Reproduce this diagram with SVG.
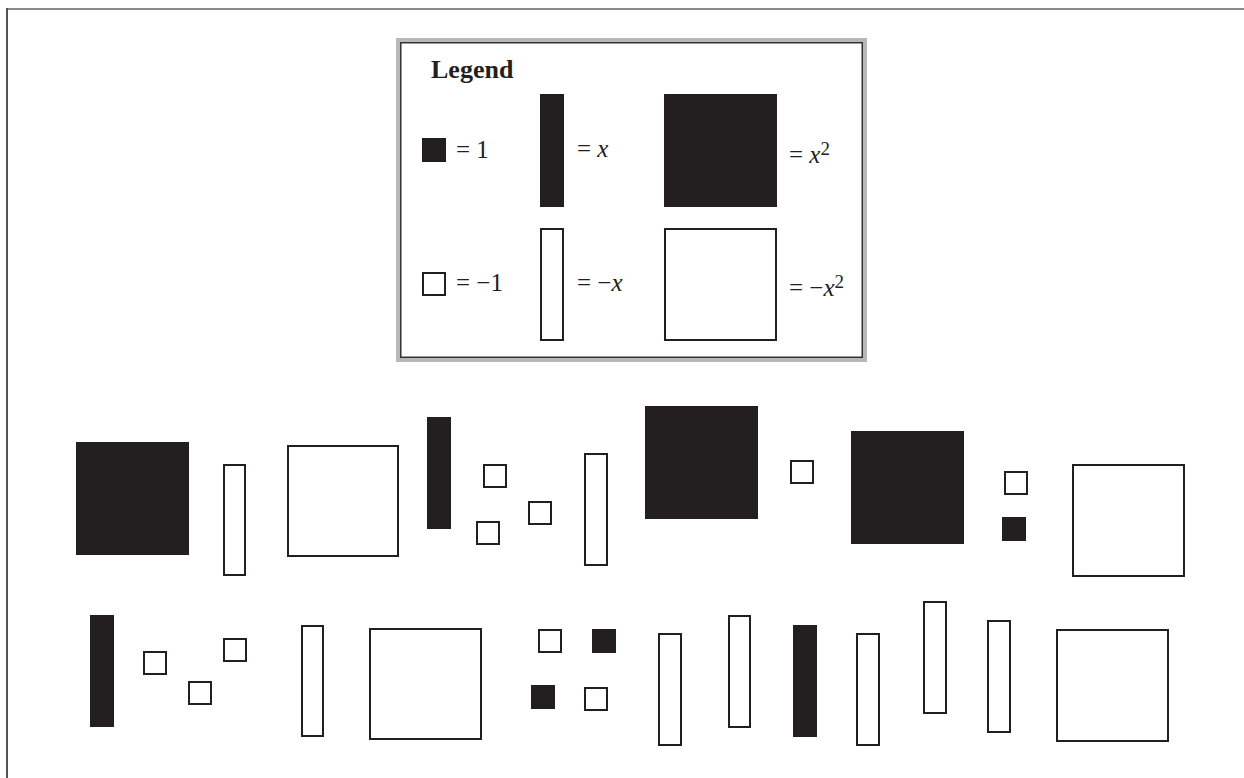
<svg xmlns="http://www.w3.org/2000/svg" width="1244" height="778" viewBox="0 0 1244 778">
<style>
.pos{fill:#231f20}
.neg{fill:#fff;stroke:#231f20;stroke-width:2}
.t{font-family:"Liberation Serif","Times New Roman",serif;font-size:25px;fill:#231f20}
.i{font-style:italic}
.sup{font-size:19px}
.h{font-family:"Liberation Serif","Times New Roman",serif;font-size:26px;font-weight:bold;fill:#231f20}
</style>
<rect width="1244" height="778" fill="#fff"/>
<g id="frame">
<line x1="6" y1="9" x2="1244" y2="9" stroke="#8a8a8a" stroke-width="2"/>
<line x1="7" y1="8" x2="7" y2="778" stroke="#555" stroke-width="2"/>
</g>
<g id="legend">
<rect x="398" y="40" width="467" height="320" fill="#fff" stroke="#b8b8b8" stroke-width="4"/>
<rect x="400.75" y="42.75" width="461.5" height="314.5" fill="none" stroke="#333" stroke-width="1.5"/>
<text class="h" x="431" y="78">Legend</text>
<rect class="pos" x="422" y="138" width="24" height="24"/>
<text class="t" x="456" y="158">= 1</text>
<rect class="pos" x="540" y="94" width="24" height="113"/>
<text class="t" x="577" y="157">= <tspan class="i">x</tspan></text>
<rect class="pos" x="664" y="94" width="113" height="113"/>
<text class="t" x="789" y="163">= <tspan class="i">x</tspan><tspan class="sup" dy="-8">2</tspan></text>
<rect class="neg" x="423" y="273" width="22" height="22"/>
<text class="t" x="456" y="291">= −1</text>
<rect class="neg" x="541" y="229" width="22" height="111"/>
<text class="t" x="577" y="291">= −<tspan class="i">x</tspan></text>
<rect class="neg" x="665" y="229" width="111" height="111"/>
<text class="t" x="789" y="296">= −<tspan class="i">x</tspan><tspan class="sup" dy="-8">2</tspan></text>
</g>
<g id="row1">
<g id="r1t1"><rect class="pos" x="76" y="442" width="113" height="113"/></g>
<g id="r1t2"><rect class="neg" x="224" y="465" width="21" height="110"/></g>
<g id="r1t3"><rect class="neg" x="288" y="446" width="110" height="110"/></g>
<g id="r1t4"><rect class="pos" x="427" y="417" width="24" height="112"/></g>
<g id="r1t5"><rect class="neg" x="484" y="465" width="22" height="22"/></g>
<g id="r1t6"><rect class="neg" x="477" y="522" width="22" height="22"/></g>
<g id="r1t7"><rect class="neg" x="529" y="502" width="22" height="22"/></g>
<g id="r1t8"><rect class="neg" x="585" y="454" width="22" height="111"/></g>
<g id="r1t9"><rect class="pos" x="645" y="406" width="113" height="113"/></g>
<g id="r1t10"><rect class="neg" x="791" y="461" width="22" height="22"/></g>
<g id="r1t11"><rect class="pos" x="851" y="431" width="113" height="113"/></g>
<g id="r1t12"><rect class="neg" x="1005" y="472" width="22" height="22"/></g>
<g id="r1t13"><rect class="pos" x="1002" y="517" width="24" height="24"/></g>
<g id="r1t14"><rect class="neg" x="1073" y="465" width="111" height="111"/></g>
</g>
<g id="row2">
<g id="r2t1"><rect class="pos" x="90" y="615" width="24" height="112"/></g>
<g id="r2t2"><rect class="neg" x="144" y="652" width="22" height="22"/></g>
<g id="r2t3"><rect class="neg" x="189" y="682" width="22" height="22"/></g>
<g id="r2t4"><rect class="neg" x="224" y="639" width="22" height="22"/></g>
<g id="r2t5"><rect class="neg" x="302" y="626" width="21" height="110"/></g>
<g id="r2t6"><rect class="neg" x="370" y="629" width="111" height="110"/></g>
<g id="r2t7"><rect class="neg" x="539" y="630" width="22" height="22"/></g>
<g id="r2t8"><rect class="pos" x="592" y="629" width="24" height="24"/></g>
<g id="r2t9"><rect class="pos" x="531" y="685" width="24" height="24"/></g>
<g id="r2t10"><rect class="neg" x="585" y="688" width="22" height="22"/></g>
<g id="r2t11"><rect class="neg" x="659" y="634" width="22" height="111"/></g>
<g id="r2t12"><rect class="neg" x="729" y="616" width="21" height="111"/></g>
<g id="r2t13"><rect class="pos" x="793" y="625" width="24" height="112"/></g>
<g id="r2t14"><rect class="neg" x="857" y="634" width="22" height="111"/></g>
<g id="r2t15"><rect class="neg" x="924" y="602" width="22" height="111"/></g>
<g id="r2t16"><rect class="neg" x="988" y="621" width="22" height="111"/></g>
<g id="r2t17"><rect class="neg" x="1057" y="630" width="111" height="111"/></g>
</g>
</svg>
